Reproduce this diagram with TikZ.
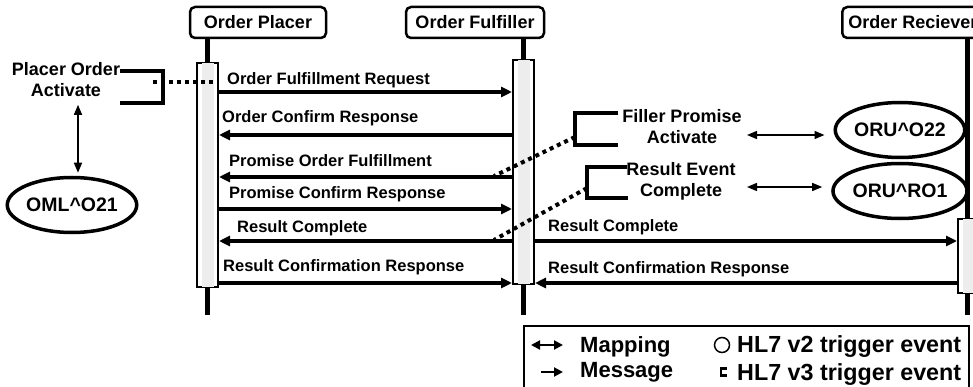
\documentclass[tikz,border=0pt]{standalone}
\usepackage{fontspec}
\setmainfont{Liberation Sans}
\usetikzlibrary{arrows.meta,shapes.geometric}
\begin{document}
\begin{tikzpicture}[x=1pt,y=-1pt,
  hdr/.style={draw, line width=2.5pt, rounded corners=5pt, minimum height=31pt, inner sep=0pt, font=\fontsize{18}{20}\selectfont\bfseries},
  act/.style={draw, line width=2pt, fill=white, minimum width=21pt, inner sep=0pt},
  life/.style={line width=5pt},
  msg/.style={line width=3.5pt, -{Triangle[length=11pt,width=10pt]}},
  lbl/.style={anchor=base west, inner sep=0pt, font=\fontsize{16.5}{18}\selectfont\bfseries},
  brk/.style={line width=4pt},
  dotline/.style={line width=4pt, dash pattern=on 4pt off 4pt},
  map/.style={line width=1.5pt, {Triangle[length=10pt,width=8pt]}-{Triangle[length=10pt,width=8pt]}},
  evt/.style={align=center, font=\fontsize{18}{21}\selectfont\bfseries, inner sep=0pt},
  v2/.style={ellipse, draw, line width=3.5pt, minimum width=103pt, minimum height=55pt, inner sep=0pt, font=\fontsize{19.5}{21}\selectfont\bfseries},
  legtxt/.style={anchor=base west, inner sep=0pt, font=\fontsize{22}{24}\selectfont\bfseries},
  legmsg/.style={line width=2pt, -{Triangle[length=9pt,width=9pt]}},
  legmap/.style={line width=2pt, {Triangle[length=9pt,width=9pt]}-{Triangle[length=9pt,width=9pt]}}
]
\useasboundingbox (0,0) rectangle (973,387);
\clip (0,0) rectangle (973,387);

% headers
\node[hdr, minimum width=136pt] (hP) at (258,22.5) {Order Placer};
\node[hdr, minimum width=138pt] (hF) at (475,22.5) {Order Fulfiller};
\node[hdr, anchor=west, inner xsep=6pt] (hR) at (841,22.5) {Order Reciever};

% activations
\node[act, minimum height=224pt] (aP) at (207.5,175) {};
\node[act, minimum height=224pt] (aF) at (523.5,172) {};
\node[act, minimum height=74pt, minimum width=18pt] (aR) at (967,256) {};
\fill[black!7] ([xshift=6pt,yshift=-1pt]aP.north west) rectangle ([xshift=-5pt,yshift=1pt]aP.south east);
\fill[black!7] ([xshift=6pt,yshift=-1pt]aF.north west) rectangle ([xshift=-5pt,yshift=1pt]aF.south east);
\fill[black!7] ([xshift=6pt,yshift=-1pt]aR.north west) rectangle ([xshift=-4pt,yshift=1pt]aR.south east);

% lifelines
\coordinate (eP) at (207.5,315);
\coordinate (eF) at (523.5,315);
\coordinate (eR) at (967,315);
\draw[life] (hP.south -| aP.north) -- (aP.north);
\draw[life] (aP.south) -- (eP);
\draw[life] (hF.south -| aF.north) -- (aF.north);
\draw[life] (aF.south) -- (eF);
\draw[life] (hR.south -| aR.north) -- (aR.north);
\draw[life] (aR.south) -- (eR);

% messages
\draw[msg] (aP.east |- 0,92) -- (aF.west |- 0,92);
\node[lbl] (l1) at (227,85) {Order Fulfillment Request};
\draw[msg] (aF.west |- 0,135) -- (aP.east |- 0,135);
\node[lbl] (l2) at (222,123) {Order Confirm Response};
\draw[msg] (aF.west |- 0,177) -- (aP.east |- 0,177);
\node[lbl] (l3) at (229,167) {Promise Order Fulfillment};
\draw[msg] (aP.east |- 0,209) -- (aF.west |- 0,209);
\node[lbl] (l4) at (229,199) {Promise Confirm Response};
\draw[msg] (aF.west |- 0,241) -- (aP.east |- 0,241);
\node[lbl] (l5) at (237,233) {Result Complete};
\draw[msg] (aP.east |- 0,283) -- (aF.west |- 0,283);
\node[lbl] (l6) at (223,271) {Result Confirmation Response};
\draw[msg] (aF.east |- 0,241) -- (aR.west |- 0,241);
\node[lbl] (l7) at (548,232) {Result Complete};
\draw[msg] (aR.west |- 0,283) -- (aF.east |- 0,283);
\node[lbl] (l8) at (548,273) {Result Confirmation Response};

% v3 trigger events
\node[evt] (poa) at (66,79.5) {Placer Order\\Activate};
\draw[brk] (120,71) -- (163,71) -- (163,103) -- (120,103);
\draw[dotline] (153,82) -- (aP.east |- 0,82);

\node[evt] (fpa) at (682,126.5) {Filler Promise\\Activate};
\draw[brk] (618,113) -- (575,113) -- (575,145) -- (618,145);
\coordinate (d1) at (494,176);
\draw[dotline] (575,137) -- (d1);

\node[evt] (rec) at (681,181.5) {Result Event\\Complete};
\draw[brk] (627,167) -- (587,167) -- (587,198) -- (628,198);
\coordinate (d2) at (494,240);
\draw[dotline] (587,188) -- (d2);

% v2 trigger events
\node[v2] (oml) at (72,205) {OML\textasciicircum O21};
\node[v2] (oru22) at (900,130) {ORU\textasciicircum O22};
\node[v2] (oru01) at (900,191) {ORU\textasciicircum RO1};

% mappings
\draw[map] ([yshift=-8pt]poa.south -| 78,0) -- ([yshift=3pt]oml.north -| 78,0);
\draw[map] (747,135) -- ([xshift=-9pt]oru22.west |- 0,135);
\draw[map] (747,187) -- ([xshift=-9pt]oru01.west |- 0,187);

% legend
\node[draw, line width=2pt, anchor=north west, minimum width=445pt, minimum height=80pt, inner sep=0pt] (leg) at (523,325) {};
\draw[legmap] (531,345) -- (563,345);
\node[legtxt] (lm) at (580,352) {Mapping};
\draw[legmsg] (541,372) -- (563,372);
\node[legtxt, fill=white, inner ysep=1pt] (lmsg) at (580,377) {Message};
\draw[line width=1.5pt] (722,345) circle (7.5pt);
\draw[line width=2.5pt] (727,368.5) -- (721,368.5) -- (721,375.5) -- (727,375.5);
\node[legtxt, font=\fontsize{23.3}{25}\selectfont\bfseries] (lv2) at (737,352) {HL7 v2 trigger event};
\node[legtxt, font=\fontsize{23.3}{25}\selectfont\bfseries] (lv3) at (737,380) {HL7 v3 trigger event};
\end{tikzpicture}
\end{document}
